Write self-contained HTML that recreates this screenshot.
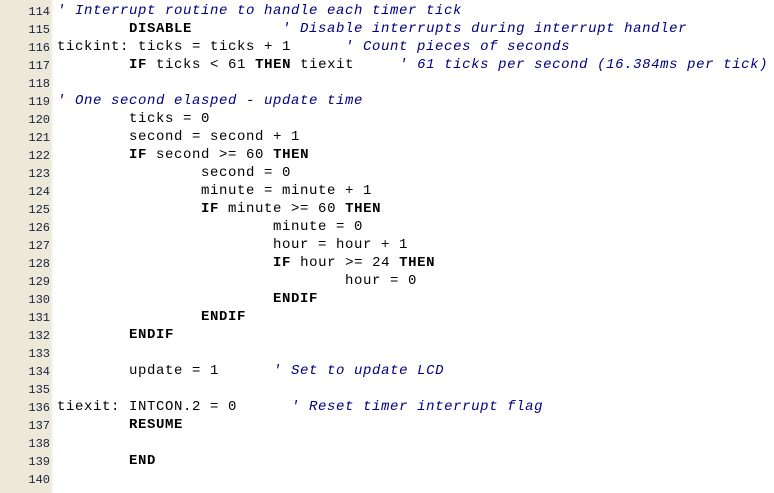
<!DOCTYPE html>
<html><head><style>
html,body{margin:0;padding:0;width:774px;height:493px;background:#fff;overflow:hidden}
.g{position:absolute;left:0;top:0;width:51px;height:493px;background:#ece9d8;border-right:2px solid #f6f4ec}
.n{position:absolute;left:0;width:50px;text-align:right;font:12px "Liberation Mono",monospace;color:#222244;height:18px;line-height:18px}
.l{position:absolute;left:57px;font:14px "Liberation Mono",monospace;letter-spacing:0.6px;white-space:pre;color:#000;height:18px;line-height:18px}
b{font-weight:bold}
i{font-style:italic;color:#000080}
</style></head><body>
<div class="g"></div>
<div class="n" style="top:3px">114</div><div class="l" style="top:2px"><i>' Interrupt routine to handle each timer tick</i></div>
<div class="n" style="top:21px">115</div><div class="l" style="top:20px">        <b>DISABLE</b>          <i>' Disable interrupts during interrupt handler</i></div>
<div class="n" style="top:39px">116</div><div class="l" style="top:38px">tickint: ticks = ticks + 1      <i>' Count pieces of seconds</i></div>
<div class="n" style="top:57px">117</div><div class="l" style="top:56px">        <b>IF</b> ticks &lt; 61 <b>THEN</b> tiexit     <i>' 61 ticks per second (16.384ms per tick)</i></div>
<div class="n" style="top:75px">118</div>
<div class="n" style="top:93px">119</div><div class="l" style="top:92px"><i>' One second elasped - update time</i></div>
<div class="n" style="top:111px">120</div><div class="l" style="top:110px">        ticks = 0</div>
<div class="n" style="top:129px">121</div><div class="l" style="top:128px">        second = second + 1</div>
<div class="n" style="top:147px">122</div><div class="l" style="top:146px">        <b>IF</b> second &gt;= 60 <b>THEN</b></div>
<div class="n" style="top:165px">123</div><div class="l" style="top:164px">                second = 0</div>
<div class="n" style="top:183px">124</div><div class="l" style="top:182px">                minute = minute + 1</div>
<div class="n" style="top:201px">125</div><div class="l" style="top:200px">                <b>IF</b> minute &gt;= 60 <b>THEN</b></div>
<div class="n" style="top:219px">126</div><div class="l" style="top:218px">                        minute = 0</div>
<div class="n" style="top:237px">127</div><div class="l" style="top:236px">                        hour = hour + 1</div>
<div class="n" style="top:255px">128</div><div class="l" style="top:254px">                        <b>IF</b> hour &gt;= 24 <b>THEN</b></div>
<div class="n" style="top:273px">129</div><div class="l" style="top:272px">                                hour = 0</div>
<div class="n" style="top:291px">130</div><div class="l" style="top:290px">                        <b>ENDIF</b></div>
<div class="n" style="top:309px">131</div><div class="l" style="top:308px">                <b>ENDIF</b></div>
<div class="n" style="top:327px">132</div><div class="l" style="top:326px">        <b>ENDIF</b></div>
<div class="n" style="top:345px">133</div>
<div class="n" style="top:363px">134</div><div class="l" style="top:362px">        update = 1      <i>' Set to update LCD</i></div>
<div class="n" style="top:381px">135</div>
<div class="n" style="top:399px">136</div><div class="l" style="top:398px">tiexit: INTCON.2 = 0      <i>' Reset timer interrupt flag</i></div>
<div class="n" style="top:417px">137</div><div class="l" style="top:416px">        <b>RESUME</b></div>
<div class="n" style="top:435px">138</div>
<div class="n" style="top:453px">139</div><div class="l" style="top:452px">        <b>END</b></div>
<div class="n" style="top:471px">140</div>
</body></html>
